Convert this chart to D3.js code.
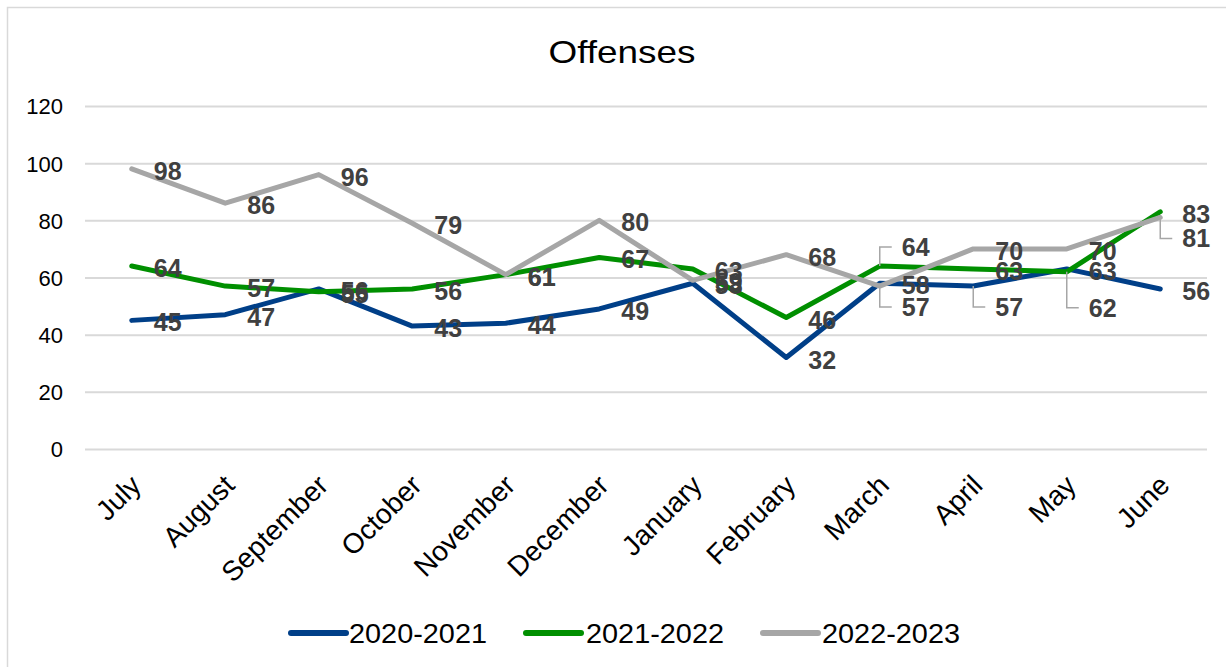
<!DOCTYPE html>
<html>
<head>
<meta charset="utf-8">
<script src="https://cdn.jsdelivr.net/npm/d3@7"></script>
<style>
  html, body { margin: 0; padding: 0; background: #fff; }
  svg { display: block; font-family: Arial, "Liberation Sans", sans-serif; }
</style>
</head>
<body>
<svg id="chart" width="1226" height="667"></svg>
<script>
// Monthly offense counts, fiscal year July–June
const months = ["July", "August", "September", "October", "November", "December",
                "January", "February", "March", "April", "May", "June"];
const seriesNames = ["2020-2021", "2021-2022", "2022-2023"];
const fy2021 = [45, 47, 56, 43, 44, 49, 58, 32, 58, 57, 63, 56];
const fy2022 = [64, 57, 55, 56, 61, 67, 63, 46, 64, 63, 62, 83];
const fy2023 = [98, 86, 96, 79, 61, 80, 59, 68, 57, 70, 70, 81];
const yTicks = [0, 20, 40, 60, 80, 100, 120];

const colors = ["#003f88", "#008f00", "#a6a6a6"];
const seriesData = [fy2021, fy2022, fy2023];

// labels pulled away from crowded points, with a leader line (series, month index, vertical shift)
const callouts = [
  { s: 1, i: 8, dy: -19 },
  { s: 2, i: 8, dy: 21 },
  { s: 0, i: 9, dy: 21 },
  { s: 1, i: 10, dy: 36 },
  { s: 2, i: 11, dy: 21 }
];

const svg = d3.select("#chart");
const W = 1226, H = 667;
const plot = { left: 85, right: 1207, top: 106, bottom: 449 };

// outer frame
svg.append("rect")
  .attr("x", 7.5).attr("y", 7.5)
  .attr("width", W).attr("height", H)
  .attr("fill", "#fff").attr("stroke", "#d9d9d9").attr("stroke-width", 1.5);

const x = d3.scaleBand().domain(months).range([plot.left, plot.right]);
const y = d3.scaleLinear().domain([0, 120]).range([plot.bottom, plot.top]);
const cx = m => x(m) + x.bandwidth() / 2;

// title
svg.append("text")
  .attr("x", 622).attr("y", 63)
  .attr("text-anchor", "middle")
  .attr("font-size", 32)
  .attr("textLength", 147).attr("lengthAdjust", "spacingAndGlyphs")
  .attr("fill", "#000")
  .text("Offenses");

// horizontal gridlines + y tick labels
const yAxis = d3.axisLeft(y).tickValues(yTicks).tickSize(-(plot.right - plot.left)).tickPadding(22);
const gy = svg.append("g").attr("transform", `translate(${plot.left},0)`).call(yAxis);
gy.select(".domain").remove();
gy.selectAll(".tick line").attr("stroke", "#d9d9d9").attr("stroke-width", 2);
gy.selectAll(".tick text")
  .attr("font-size", 22).attr("fill", "#000")
  .attr("font-family", "Arial, 'Liberation Sans', sans-serif")
  .attr("dy", "0.36em");

// month labels, rotated
const xAxis = d3.axisBottom(x).tickSize(0).tickPadding(0);
const gx = svg.append("g").attr("transform", `translate(0,${plot.bottom})`).call(xAxis);
gx.select(".domain").remove();
gx.selectAll(".tick text")
  .attr("font-size", 28).attr("fill", "#000")
  .attr("font-family", "Arial, 'Liberation Sans', sans-serif")
  .attr("text-anchor", "end")
  .attr("dy", null).attr("y", 0)
  .attr("transform", "translate(11,38) rotate(-45)");

// series lines
const line = d3.line()
  .x((d, i) => cx(months[i]))
  .y(d => y(d));

seriesData.forEach((vals, s) => {
  svg.append("path")
    .datum(vals)
    .attr("d", line)
    .attr("fill", "none")
    .attr("stroke", colors[s])
    .attr("stroke-width", 5)
    .attr("stroke-linejoin", "round")
    .attr("stroke-linecap", "round");
});

// data labels
const labelG = svg.append("g")
  .attr("font-size", 25).attr("font-weight", "bold").attr("fill", "#404040");

seriesData.forEach((vals, s) => {
  vals.forEach((v, i) => {
    const px = cx(months[i]);
    const py = y(v);
    const c = callouts.find(o => o.s === s && o.i === i);
    const ly = py + (c ? c.dy : 2);
    if (c) {
      svg.append("path")
        .attr("d", `M${px},${py}V${ly}H${px + 12}`)
        .attr("fill", "none")
        .attr("stroke", "#a6a6a6")
        .attr("stroke-width", 1.5);
    }
    labelG.append("text")
      .attr("x", px + 22)
      .attr("y", ly + 9)
      .text(v);
  });
});

// legend
const legendPos = [
  { lx: 291, tx: 349 },
  { lx: 526, tx: 586 },
  { lx: 763, tx: 822 }
];
const legend = svg.append("g");
seriesNames.forEach((name, s) => {
  const p = legendPos[s];
  legend.append("line")
    .attr("x1", p.lx).attr("x2", p.lx + 55)
    .attr("y1", 633).attr("y2", 633)
    .attr("stroke", colors[s]).attr("stroke-width", 6)
    .attr("stroke-linecap", "round");
  legend.append("text")
    .attr("x", p.tx).attr("y", 643)
    .attr("font-size", 28)
    .attr("textLength", 138).attr("lengthAdjust", "spacingAndGlyphs")
    .attr("fill", "#000")
    .text(name);
});
</script>
</body>
</html>
